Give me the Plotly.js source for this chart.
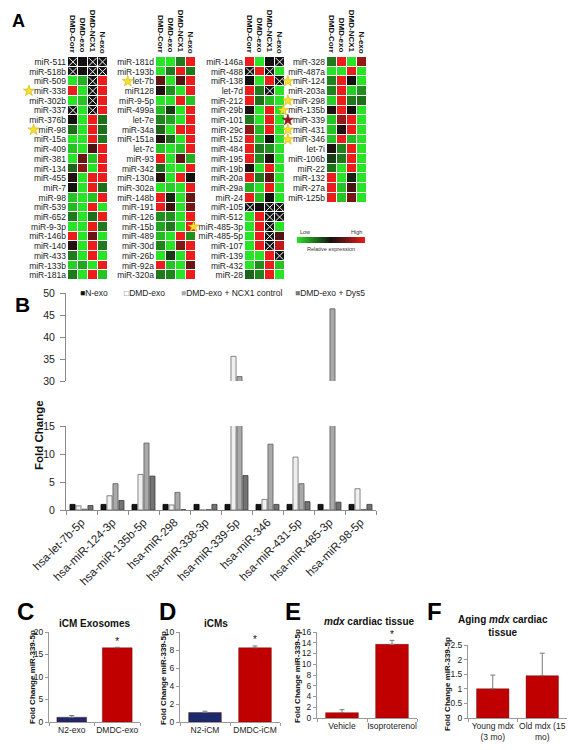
<!DOCTYPE html>
<html><head><meta charset="utf-8">
<script src="https://cdn.plot.ly/plotly-3.0.1.min.js"></script>
<style>html,body{margin:0;padding:0;background:#fff}#chart{width:571px;height:750px}</style>
</head><body><div id="chart"></div>
<script>
const W=571,H=750;
// ---------- Panel A data (heat values: -1 low/green ... 0 black ... 1 high/red; null = not detected) ----------
const conditions=["DMD-Corr","DMD-exo","DMD-NCX1","N-exo"];
const mirs1=["miR-511","miR-518b","miR-509","miR-338","miR-302b","miR-337","miR-376b","miR-98","miR-15a","miR-409","miR-381","miR-134","miR-455","miR-7","miR-98","miR-539","miR-652","miR-9-3p","miR-146b","miR-140","miR-433","miR-133b","miR-181a"];
const vals1=[[null,0,null,null],[null,0,null,null],[-1,-0.75,null,1],[1,-1,null,1],[-1,-0.85,null,1],[null,-1,null,1],[0,-1,1,-0.45],[-0.45,-1,1,-0.45],[-1,-1,1,-0.5],[-0.85,-1,0.25,1],[-1,0.4,-0.85,1],[-0.4,0.55,-1,1],[0.05,-1,1,1],[0,-1,1,-0.45],[-0.85,-1,-0.85,1],[-0.8,-1,1,-1],[-0.5,-1,-0.45,1],[-1,-1,1,-0.5],[1,-1,0.4,-1],[0.1,-1,1,-0.5],[-0.5,-1,1,-1],[-0.9,-0.7,-1,1],[-0.5,-1,1,-0.85]];
const mirs2=["miR-181d","miR-193b","let-7b","miR128","miR-9-5p","miR-499a","let-7e","miR-34a","miR-151a","let-7c","miR-93","miR-342","miR-130a","miR-302a","miR-148b","miR-191","miR-126","miR-15b","miR-489","miR-30d","miR-26b","miR-92a","miR-320a"];
const vals2=[[-1,-1,-0.5,1],[-1,-0.5,1,-0.5],[0.35,-1,0.3,1],[0.05,-0.6,-1,1],[-1,-1,1,-0.85],[-0.8,-0.2,-1,1],[-0.55,-0.7,-1,1],[-0.4,-1,1,1],[0.05,-0.4,-1,1],[-0.85,-1,-0.85,1],[1,-1,0.35,-0.75],[-0.45,-1,-1,1],[0.1,-1,1,0],[-1,-0.9,-1,1],[1,-0.1,-1,0.4],[1,0.2,-1,0.45],[-0.6,-0.6,-1,1],[-0.7,-0.5,-1,1],[-0.8,-1,1,-0.6],[-0.55,-1,0.5,1],[-1,-0.2,-1,1],[1,-0.85,-1,0.4],[-0.5,-0.55,-1,1]];
const mirs3=["miR-146a","miR-488","miR-138","let-7d","miR-212","miR-29b","miR-101","miR-29c","miR-152","miR-484","miR-195","miR-19b","miR-20a","miR-29a","miR-24","miR-105","miR-512","miR-485-3p","miR-485-5p","miR-107","miR-139","miR-432","miR-28"];
const vals3=[[1,-1,0,null],[null,1,null,-1],[0,-1,1,null],[1,-0.5,null,-1],[1,-0.45,-0.8,-1],[0.05,-1,1,-1],[-0.5,-1,1,-1],[0.55,-0.8,1,-1],[1,-0.8,0,-1],[1,-0.5,-0.6,-1],[1,-0.6,0.05,-1],[0.05,-1,1,-1],[1,-0.5,0.35,-1],[-0.75,-1,1,-1],[1,-0.8,0,-1],[null,0,null,null],[-1,1,null,null],[-1,1,null,-1],[-1,1,null,0.3],[-1,1,null,0.8],[-1,-1,1,null],[-1,-0.6,1,-0.85],[-0.4,-0.55,1,-1]];
const mirs4=["miR-328","miR-487a","miR-124","miR-203a","miR-298","miR-135b","miR-339","miR-431","miR-346","let-7i","miR-106b","miR-22","miR-132","miR-27a","miR-125b"];
const vals4=[[-0.5,1,-1,0.6],[-1,-1,1,-1],[-0.55,1,0,-1],[-0.55,1,-0.9,-0.6],[-0.9,1,-0.5,-0.45],[0.05,1,0,-1],[-0.85,0.6,1,-1],[-0.85,0.05,1,-1],[-0.85,1,-0.8,-1],[0.05,-0.55,1,-1],[-0.2,-0.5,1,-1],[-0.45,-1,1,-1],[1,-1,-0.1,-1],[1,-0.85,0.25,-1],[1,-0.85,0.45,-1]];
const starRows1=[3,7], starRows2=[2], starRows3=[17], starRows4=[2,4,5,7,8];
const redStarRows4=[6];

// ---------- Panel B data ----------
const bCats=["hsa-let-7b-5p","hsa-miR-124-3p","hsa-miR-135b-5p","hsa-miR-298","hsa-miR-338-3p","hsa-miR-339-5p","hsa-miR-346","hsa-miR-431-5p","hsa-miR-485-3p","hsa-miR-98-5p"];
const bSeriesNames=["N-exo","DMD-exo","DMD-exo + NCX1 control","DMD-exo + Dys5"];
const nExo=[1,1,1,1,1,1,1,1,1,1];
const dmdExo=[0.75,2.55,6.35,0.9,0,35.6,1.9,9.45,0,3.8];
const dmdNcx1=[0.15,4.7,11.95,3.15,0.1,31,11.75,4.7,46.4,0.1];
const dmdDys5=[0.8,1.7,6.05,0.05,1.0,6.15,1.0,1.5,1.4,1.0];

// ---------- Panels C-F data ----------
const cCats=["N2-exo","DMDC-exo"], cVals=[1.05,16.5], cErr=[0.4,0.1], cSig=[false,true];
const dCats=["N2-iCM","DMDC-iCM"], dVals=[1.05,8.25], dErr=[0.15,0.2], dSig=[false,true];
const eCats=["Vehicle","Isoproterenol"], eVals=[1.0,13.7], eErr=[0.55,0.75], eSig=[false,true];
const fCats=["Young mdx<br>(3 mo)","Old mdx (15<br>mo)"], fVals=[1.0,1.45], fErr=[0.47,0.77], fSig=[false,false];

// ---------- helpers ----------
const dx=(a,b)=>[a/W,b/W];
const dy=(t,b)=>[1-b/H,1-t/H];
const FONT="Liberation Sans, Arial, sans-serif";
const LABEL_SIZE=8.5;
const cv=document.createElement('canvas').getContext('2d');
cv.font=LABEL_SIZE+'px "Liberation Sans", Arial, sans-serif';
const textW=s=>cv.measureText(s).width;
const heatScale=[[0,'#27e427'],[0.5,'#141010'],[1,'#ec1c1c']];
const traces=[]; const layout={width:W,height:H,margin:{l:0,r:0,t:0,b:0},paper_bgcolor:'#fff',plot_bgcolor:'rgba(0,0,0,0)',
  showlegend:false,font:{family:FONT,color:'#222'},barmode:'group',bargap:0.23,bargroupgap:0.15,annotations:[]};
const ann=(x,y,text,o)=>layout.annotations.push(Object.assign({xref:'paper',yref:'paper',x:x/W,y:1-y/H,text:text,showarrow:false,xanchor:'center',yanchor:'middle',font:{family:FONT,size:9,color:'#222'}},o||{}));
const axName=i=>i===1?'':String(i);

// ---------- Panel A ----------
const TOP=57, ROWH=9.7, LABEL_ZONE=60;
const heatCols=[
  {names:mirs1,vals:vals1,stars:starRows1,red:[],x:[68,107.5]},
  {names:mirs2,vals:vals2,stars:starRows2,red:[],x:[156,195.5]},
  {names:mirs3,vals:vals3,stars:starRows3,red:[],x:[245,284.5]},
  {names:mirs4,vals:vals4,stars:starRows4,red:redStarRows4,x:[327,366.5]}
];
heatCols.forEach((c,k)=>{
  const i=k+1, xa='x'+axName(i), ya='y'+axName(i);
  const n=c.names.length, rows=c.names.map((_,r)=>r);
  const main={type:'heatmap',x:[0,1,2,3],y:rows,z:c.vals,zmin:-1,zmax:1,colorscale:heatScale,xgap:1,ygap:1,
    showscale:false,hoverinfo:'skip',xaxis:xa,yaxis:ya};
  if(k===3){
    main.showscale=true;
    main.colorbar={orientation:'h',x:331/W,xanchor:'center',y:1-240/H,yanchor:'middle',yref:'paper',xref:'paper',
      lenmode:'pixels',len:68,thicknessmode:'pixels',thickness:6,outlinewidth:0,showticklabels:false,ticks:'',xpad:0,ypad:0};
  }
  traces.push(main);
  const miss=c.vals.map(r=>r.map(v=>v===null?1:null));
  traces.push({type:'heatmap',x:[0,1,2,3],y:rows,z:miss,zmin:0,zmax:1,colorscale:[[0,'#141414'],[1,'#141414']],
    xgap:1,ygap:1,showscale:false,hoverinfo:'skip',xaxis:xa,yaxis:ya});
  const mx=[],my=[];
  c.vals.forEach((r,ri)=>r.forEach((v,ci)=>{if(v===null){mx.push(ci);my.push(ri);}}));
  traces.push({type:'scatter',mode:'markers',x:mx,y:my,marker:{symbol:'x-thin',size:8,line:{color:'#f4f4f4',width:1}},
    hoverinfo:'skip',xaxis:xa,yaxis:ya,cliponaxis:false});
  // stars: drawn on a helper x axis that spans the label zone (units = px left of the cells)
  const sa=10+i, sxa='x'+sa;
  layout['xaxis'+sa]={domain:dx(c.x[0]-LABEL_ZONE,c.x[0]),range:[-LABEL_ZONE,0],visible:false,anchor:ya,fixedrange:true};
  [[c.stars,'#f5e02e','#c9a800'],[c.red,'#a3161a','#5a0a0a']].forEach(([list,fill,edge])=>{
    if(!list.length) return;
    traces.push({type:'scatter',mode:'markers',y:list,
      x:list.map(r=>-(textW(c.names[r])+3+4)),
      marker:{symbol:'star',size:8.5,color:fill,line:{color:edge,width:0.5}},hoverinfo:'skip',xaxis:sxa,yaxis:ya,cliponaxis:false});
  });
  layout['xaxis'+axName(i)]={domain:dx(c.x[0],c.x[1]),range:[-0.5,3.5],visible:false,anchor:ya,fixedrange:true};
  layout['yaxis'+axName(i)]={domain:dy(TOP,TOP+n*ROWH),range:[n-0.5,-0.5],tickmode:'array',tickvals:rows,ticktext:c.names,
    ticks:'',showgrid:false,zeroline:false,showline:false,tickfont:{family:FONT,size:LABEL_SIZE,color:'#222'},anchor:xa,ticklabelstandoff:1,fixedrange:true};
  conditions.forEach((cond,ci)=>{
    layout.annotations.push({xref:xa,yref:'paper',x:ci,y:1-(TOP-2)/H,text:'<b>'+cond+'</b>',textangle:90,showarrow:false,
      xanchor:'center',yanchor:'bottom',font:{family:FONT,size:8,color:'#111'}});
  });
});
ann(10,21.5,'<b>A</b>',{xanchor:'left',font:{family:FONT,size:18,color:'#000'}});
ann(298,232,'Low',{xanchor:'left',font:{family:FONT,size:5.5,color:'#333'}});
ann(364,232,'High',{xanchor:'right',font:{family:FONT,size:5.5,color:'#333'}});
ann(331,249,'Relative expression',{font:{family:FONT,size:5.5,color:'#333'}});

// ---------- Panel B ----------
const bSeries=[nExo,dmdExo,dmdNcx1,dmdDys5];
const bFill=['#161616','#efefef','#a9a9a9','#737373'];
const bLine=['#000000','#6a6a6a','#5a5a5a','#3a3a3a'];
[['x5','y5'],['x6','y6']].forEach(([xa,ya])=>{
  bSeries.forEach((s,si)=>traces.push({type:'bar',x:bCats,y:s,name:bSeriesNames[si],xaxis:xa,yaxis:ya,
    marker:{color:bFill[si],line:{color:bLine[si],width:0.8}},hoverinfo:'skip'}));
});
const bAxisY={showline:true,linecolor:'#8a8a8a',linewidth:1,ticks:'outside',ticklen:5,tickcolor:'#8a8a8a',showgrid:false,zeroline:false,
  tickfont:{family:FONT,size:10.5,color:'#222'},dtick:5,ticklabelstandoff:3,fixedrange:true};
layout.xaxis5={domain:dx(66,376),type:'category',visible:false,anchor:'y5',matches:'x6'};
layout.yaxis5=Object.assign({},bAxisY,{domain:dy(293,381),range:[30,50],anchor:'x5',tick0:30});
layout.xaxis6={domain:dx(66,376),type:'category',anchor:'y6',showline:true,linecolor:'#8a8a8a',ticks:'outside',tickson:'boundaries',
  ticklen:4,tickcolor:'#8a8a8a',tickangle:-45,showgrid:false,tickfont:{family:FONT,size:11.5,color:'#222'},fixedrange:true};
layout.yaxis6=Object.assign({},bAxisY,{domain:dy(426,510),range:[0,15],anchor:'x6',tick0:0});
ann(13,304.5,'<b>B</b>',{xanchor:'left',font:{family:FONT,size:21,color:'#000'}});
ann(39,435,'<b>Fold Change</b>',{textangle:-90,font:{family:FONT,size:11.5,color:'#111'}});
const legSyms=['■','□','■','■'], legSymCol=['#111','#666','#aaa','#777'], legX=[78,122,179,293];
bSeriesNames.forEach((nm,i)=>ann(legX[i],293,'<span style="color:'+legSymCol[i]+'">'+legSyms[i]+'</span>'+nm,
  {xanchor:'left',font:{family:FONT,size:8.5,color:'#222'}}));

// ---------- Panels C-F ----------
const small=[
  {cats:cCats,vals:cVals,err:cErr,sig:cSig,col:['#1b2a6b','#c00000'],x:[49,140],y:[632,722],range:[0,20],dtick:5,
   letter:'C',lx:15,title:'<b>iCM Exosomes</b>',tx:95,ty:623,yt:[32,677]},
  {cats:dCats,vals:dVals,err:dErr,sig:dSig,col:['#1b2a6b','#c00000'],x:[180,280],y:[632,722],range:[0,10],dtick:2,
   letter:'D',lx:157,title:'<b>iCMs</b>',tx:216,ty:623,yt:[163,678]},
  {cats:eCats,vals:eVals,err:eErr,sig:eSig,col:['#c00000','#c00000'],x:[317,417],y:[632,718],range:[0,16],dtick:2,
   letter:'E',lx:283,title:'<b><i>mdx</i> cardiac tissue</b>',tx:369,ty:621,yt:[297,676]},
  {cats:fCats,vals:fVals,err:fErr,sig:fSig,col:['#c00000','#c00000'],x:[468,567],y:[645,718],range:[0,2.5],dtick:0.5,
   letter:'F',lx:425,title:'<b>Aging <i>mdx</i> cardiac<br>tissue</b>',tx:503,ty:626,yt:[447,684]}
];
small.forEach((p,k)=>{
  const i=7+k, xa='x'+i, ya='y'+i;
  traces.push({type:'bar',x:p.cats,y:p.vals,xaxis:xa,yaxis:ya,marker:{color:p.col,line:{color:'#5a0000',width:0.4}},
    error_y:{type:'data',array:p.err,arrayminus:p.err.map(()=>0),symmetric:false,color:'#7a7a7a',thickness:1,width:2.5},hoverinfo:'skip'});
  traces.push({type:'scatter',mode:'text',x:p.cats,y:p.vals.map((v,j)=>v+p.err[j]),text:p.sig.map(s=>s?'*':''),
    textposition:'top center',textfont:{family:FONT,size:10,color:'#111'},xaxis:xa,yaxis:ya,hoverinfo:'skip',cliponaxis:false});
  layout['xaxis'+i]={domain:dx(p.x[0],p.x[1]),type:'category',anchor:ya,showline:true,linecolor:'#9a9a9a',ticks:'outside',
    tickson:'boundaries',ticklen:3,tickcolor:'#9a9a9a',showgrid:false,tickangle:0,tickfont:{family:FONT,size:8.5,color:'#222'},fixedrange:true};
  layout['yaxis'+i]={domain:dy(p.y[0],p.y[1]),range:p.range,dtick:p.dtick,anchor:xa,showline:true,linecolor:'#9a9a9a',ticks:'outside',
    ticklen:3,tickcolor:'#9a9a9a',showgrid:false,zeroline:false,tickfont:{family:FONT,size:8.5,color:'#222'},fixedrange:true};
  ann(p.lx,611.5,'<b>'+p.letter+'</b>',{xanchor:'left',font:{family:FONT,size:24,color:'#000'}});
  ann(p.tx,p.ty,p.title,{font:{family:FONT,size:10,color:'#111'}});
  ann(p.yt[0],p.yt[1],'<b>Fold Change miR-339-5p</b>',{textangle:-90,font:{family:FONT,size:8,color:'#111'}});
});

Plotly.newPlot('chart',traces,layout,{staticPlot:true,displayModeBar:false});
</script></body></html>
